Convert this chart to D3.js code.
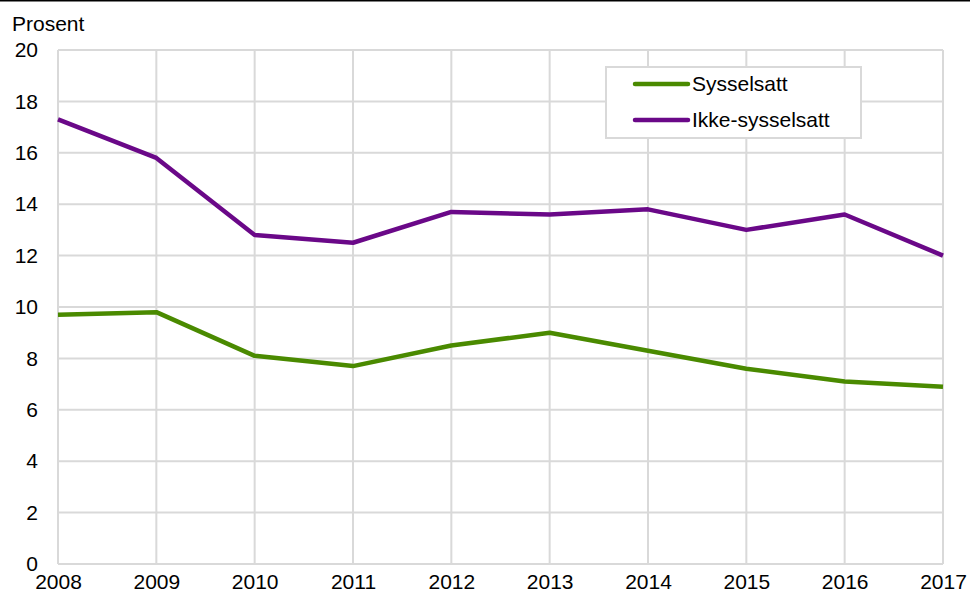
<!DOCTYPE html>
<html lang="no">
<head>
<meta charset="UTF-8">
<title>Prosent</title>
<script src="https://cdn.jsdelivr.net/npm/d3@7"></script>
<style>
  body { margin: 0; background: #fff; }
  svg { display: block; font-family: "Liberation Sans", Arial, sans-serif; }
</style>
</head>
<body>
<div id="container"></div>
<script>
const years = [2008, 2009, 2010, 2011, 2012, 2013, 2014, 2015, 2016, 2017];
const sysselsatt = [9.7, 9.8, 8.1, 7.7, 8.5, 9.0, 8.3, 7.6, 7.1, 6.9];
const ikkeSysselsatt = [17.3, 15.8, 12.8, 12.5, 13.7, 13.6, 13.8, 13.0, 13.6, 12.0];
const yTicks = [0, 2, 4, 6, 8, 10, 12, 14, 16, 18, 20];
const seriesNames = ["Sysselsatt", "Ikke-sysselsatt"];
const seriesColors = ["#4a8a00", "#6a0888"];

const W = 970, H = 592;
const plotLeft = 58, plotRight = 943, plotTop = 50, plotBottom = 564;
const fs = 21;

const svg = d3.select("#container").append("svg")
  .attr("width", W).attr("height", H);

// svart strek øverst
svg.append("line")
  .attr("x1", 0).attr("x2", W).attr("y1", 0.75).attr("y2", 0.75)
  .attr("stroke", "#000").attr("stroke-width", 1.5);

const x = d3.scaleLinear().domain([2008, 2017]).range([plotLeft, plotRight]);
const y = d3.scaleLinear().domain([0, 20]).range([plotBottom, plotTop]);

// rutenett
svg.append("g").selectAll("line")
  .data(yTicks).enter().append("line")
  .attr("x1", plotLeft).attr("x2", plotRight)
  .attr("y1", d => y(d)).attr("y2", d => y(d))
  .attr("stroke", "#d9d9d9").attr("stroke-width", 2);

svg.append("g").selectAll("line")
  .data(years).enter().append("line")
  .attr("x1", d => x(d)).attr("x2", d => x(d))
  .attr("y1", plotTop).attr("y2", plotBottom)
  .attr("stroke", "#d9d9d9").attr("stroke-width", 2);

// akser
const yAxis = svg.append("g")
  .attr("transform", `translate(${plotLeft - 20},0)`)
  .call(d3.axisLeft(y).tickValues(yTicks).tickSize(0).tickPadding(0));
yAxis.select(".domain").remove();
yAxis.selectAll("text").attr("font-size", fs).attr("fill", "#000")
  .attr("font-family", "Liberation Sans, Arial, sans-serif");

const xAxis = svg.append("g")
  .attr("transform", `translate(0,${plotBottom})`)
  .call(d3.axisBottom(x).tickValues(years).tickFormat(d3.format("d")).tickSize(0).tickPadding(10));
xAxis.select(".domain").remove();
xAxis.selectAll("text").attr("font-size", fs).attr("fill", "#000")
  .attr("font-family", "Liberation Sans, Arial, sans-serif");

svg.append("text")
  .attr("x", 12).attr("y", 31)
  .attr("font-size", fs)
  .text("Prosent");

// linjer
const line = d3.line()
  .x((d, i) => x(years[i]))
  .y(d => y(d));

[sysselsatt, ikkeSysselsatt].forEach((s, i) => {
  svg.append("path")
    .attr("d", line(s))
    .attr("fill", "none")
    .attr("stroke", seriesColors[i])
    .attr("stroke-width", 4.5)
    .attr("stroke-linejoin", "round");
});

// tegnforklaring
const lg = svg.append("g");
lg.append("rect")
  .attr("x", 606).attr("y", 67).attr("width", 255).attr("height", 71)
  .attr("fill", "#fff").attr("stroke", "#d9d9d9").attr("stroke-width", 2);
seriesNames.forEach((name, i) => {
  const ly = 84 + i * 36;
  lg.append("line")
    .attr("x1", 635).attr("x2", 688).attr("y1", ly).attr("y2", ly)
    .attr("stroke", seriesColors[i]).attr("stroke-width", 4.5)
    .attr("stroke-linecap", "round");
  lg.append("text")
    .attr("x", 692).attr("y", ly + 7)
    .attr("font-size", fs)
    .text(name);
});
</script>
</body>
</html>
